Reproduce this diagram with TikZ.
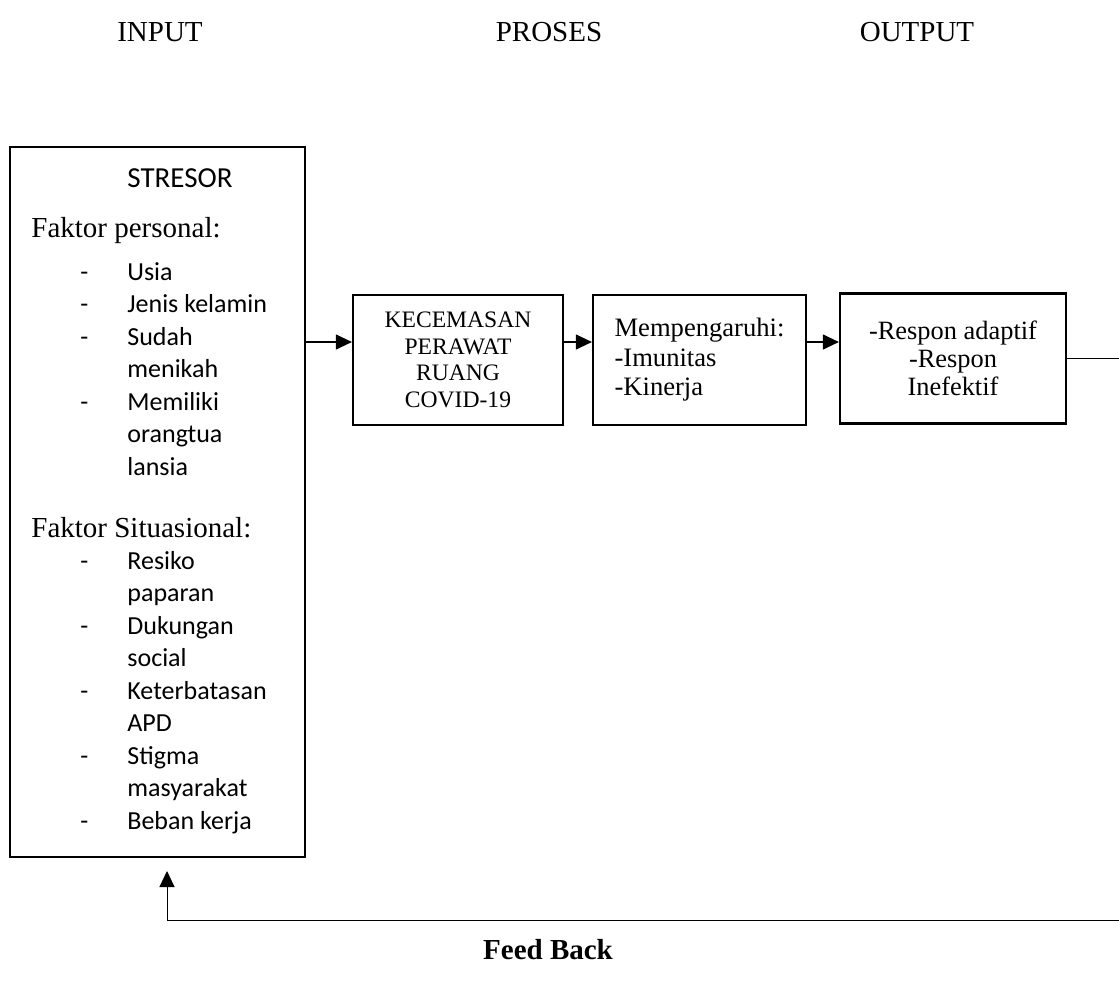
\documentclass[tikz,border=0pt]{standalone}
\usepackage{fontspec}
\setmainfont{Liberation Serif}
\newfontfamily\calibrifont{Carlito}
\usetikzlibrary{arrows.meta,positioning}
\tikzset{
	>={Triangle[length=8pt,width=7.5pt]},
	stage/.style={
		rectangle,
		draw=black,
		line width=1.1pt,
		inner sep=0pt,
		minimum height=65pt},
	flowedge/.style={
		->,
		line width=0.6pt
	},
	feededge/.style={
		->,
		line width=0.5pt
	},
	heading/.style={
		font=\fontsize{14.5}{17}\selectfont
	},
	factor/.style={
		anchor=base west,
		inner sep=0pt,
		font=\fontsize{14.5}{17}\selectfont
	},
	itemlist/.style={
		anchor=base west,
		inner sep=0pt,
		font=\calibrifont\fontsize{13}{16.25}\selectfont
	}
}

\begin{document}
\begin{tikzpicture}[
			x=0.5pt, y=-0.5pt,
			]
    \useasboundingbox (0,0) rectangle (1119,996);

    \node[heading] (IN) at (160,32) {INPUT};
    \node[heading] (PR) at (549,32) {PROSES};
    \node[heading] (OU) at (917,32) {OUTPUT};

    \node[stage,
          minimum width=147.5pt,
          minimum height=355pt
          ] (STR) at (157.5,502) {};
    \node[itemlist, font=\calibrifont\fontsize{14.5}{17}\selectfont] (STRT) at (127,187) {STRESOR};
    \node[factor] (FP) at (31,237) {Faktor personal:};
    \node[itemlist] (FPL) at (80,280) {\begin{tabular}[t]{@{}p{23.5pt}@{}l@{}}
      - & Usia\\
      - & Jenis kelamin\\
      - & Sudah\\
        & menikah\\
      - & Memiliki\\
        & orangtua\\
        & lansia
    \end{tabular}};
    \node[factor] (FS) at (31,537) {Faktor Situasional:};
    \node[itemlist] (FSL) at (80,569) {\begin{tabular}[t]{@{}p{23.5pt}@{}l@{}}
      - & Resiko\\
        & paparan\\
      - & Dukungan\\
        & social\\
      - & Keterbatasan\\
        & APD\\
      - & Stigma\\
        & masyarakat\\
      - & Beban kerja
    \end{tabular}};

    \node[stage,
          minimum width=105pt,
          align=center,
          font=\fontsize{11.8}{13.35}\selectfont
          ] (KEC) at (458,360) {KECEMASAN\\PERAWAT\\RUANG\\COVID-19};
    \node[stage,
          minimum width=106.5pt,
          align=left,
          font=\fontsize{13.3}{14.75}\selectfont
          ] (MEM) at (699.5,360) {Mempengaruhi:\\-Imunitas\\-Kinerja};
    \node[stage,
          minimum width=113pt,
          align=center,
          font=\fontsize{13.2}{14}\selectfont
          ] (OUT) at (953,358.5) {-Respon adaptif\\-Respon\\Inefektif};

    \coordinate (lvl) at (0,342);
    \path (STR.east |- lvl) edge[flowedge] (KEC.west |- lvl);
    \path (KEC.east |- lvl) edge[flowedge] (MEM.west |- lvl);
    \path (MEM.east |- lvl) edge[flowedge] (OUT.west |- lvl);

    % feedback loop, its right turn lies past the page edge
    \coordinate (FBturn) at (1125,920);
    \coordinate (FBin) at (167,871);
    \draw[feededge] (OUT.east) -| (FBturn) -- (FBin |- FBturn) -- (FBin);

    \node[font=\bfseries\fontsize{14.5}{17}\selectfont] (FB) at (548,950) {Feed Back};
\end{tikzpicture}
\end{document}
